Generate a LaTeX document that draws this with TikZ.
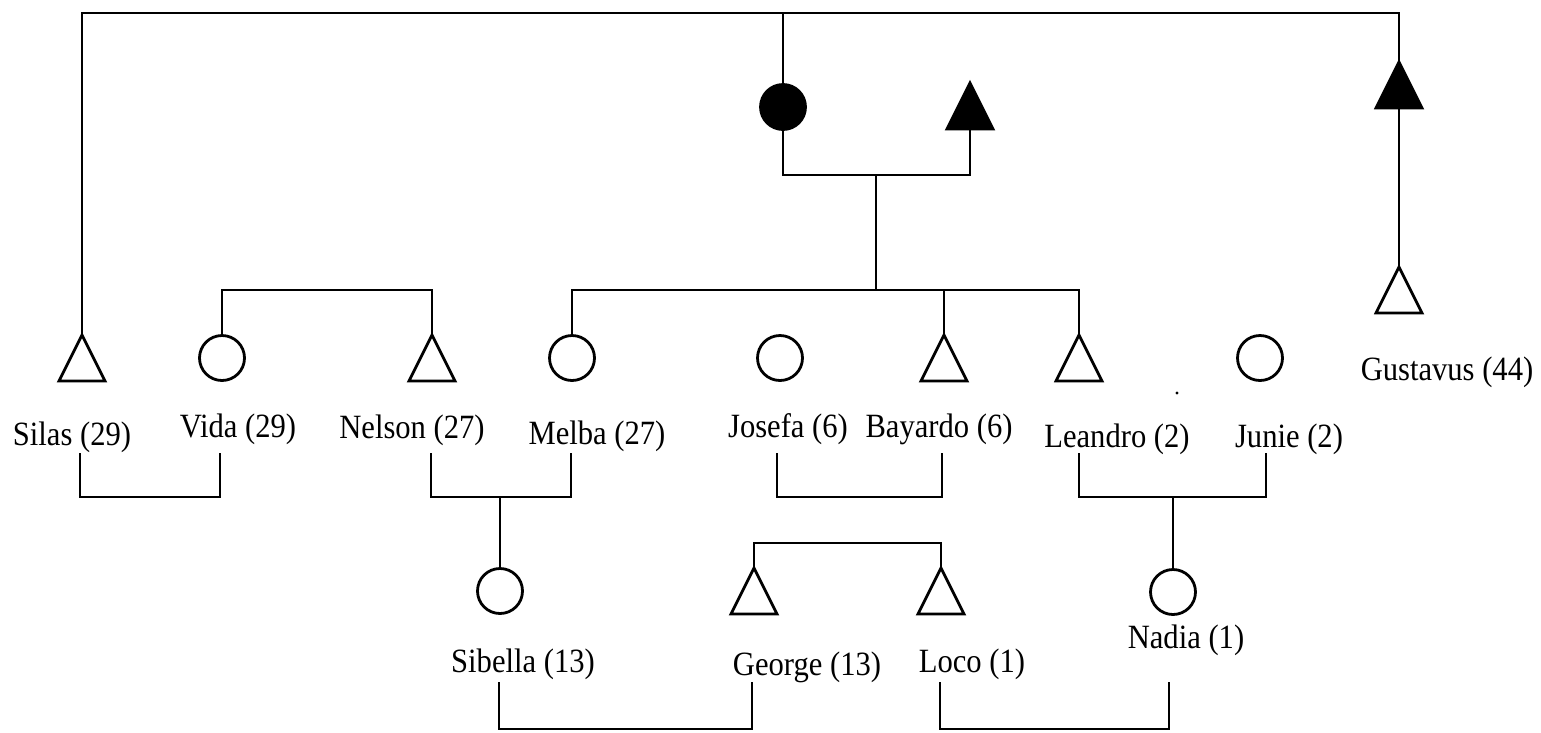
\documentclass[tikz,border=0pt]{standalone}
\usepackage{fontspec}
\setmainfont{Liberation Serif}[FakeStretch=0.9]
\begin{document}
\begin{tikzpicture}[x=1pt,y=-1pt,
  ln/.style={line width=2.8pt},
  fem/.style={circle,draw,line width=2.8pt,minimum size=45pt,inner sep=0pt},
  lab/.style={anchor=base,inner sep=0pt,font=\fontsize{34}{37}\selectfont},
  male/.pic={
    \draw[line width=2.8pt,line join=miter,pic actions] (0,0) -- (-23,46) -- (23,46) -- cycle;
    \coordinate (-top) at (0,0);
    \coordinate (-base) at (0,46);
  }]
\useasboundingbox (0,0) rectangle (1541,732);

% --- symbols -------------------------------------------------------------
\node[fem,fill=black] (mother) at (783,107) {};
\pic[fill=black] (father) at (970,83) {male};
\pic[fill=black] (gusf) at (1399,62) {male};

\pic (silas) at (82,335) {male};
\node[fem] (vida) at (222,358) {};
\pic (nelson) at (432,335) {male};
\node[fem] (melba) at (572,358) {};
\node[fem] (josefa) at (780,358) {};
\pic (bayardo) at (944,335) {male};
\pic (leandro) at (1079,335) {male};
\node[fem] (junie) at (1260,358) {};
\pic (gus) at (1399,267) {male};

\node[fem] (sibella) at (500,591) {};
\pic (george) at (754,568) {male};
\pic (loco) at (941,568) {male};
\node[fem] (nadia) at (1173,592) {};

\fill (1177,393) circle (1.6);

% --- labels --------------------------------------------------------------
\node[lab] (silasl)   at (72,445)   {Silas (29)};
\node[lab] (vidal)    at (238,437)  {Vida (29)};
\node[lab] (nelsonl)  at (412,438)  {Nelson (27)};
\node[lab] (melbal)   at (597,444)  {Melba (27)};
\node[lab] (josefal)  at (788,437)  {Josefa (6)};
\node[lab] (bayardol) at (939,437)  {Bayardo (6)};
\node[lab] (leandrol) at (1117,447) {Leandro (2)};
\node[lab] (juniel)   at (1289,447) {Junie (2)};
\node[lab] (gusl)     at (1447,380) {Gustavus (44)};
\node[lab] (sibellal) at (523,672)  {Sibella (13)};
\node[lab] (georgel)  at (807,675)  {George (13)};
\node[lab] (locol)    at (972,672)  {Loco (1)};
\node[lab] (nadial)   at (1186,648) {Nadia (1)};

% --- junction points -----------------------------------------------------
\coordinate (topL) at (82,13);
\coordinate (topR) at (1399,13);
\coordinate (mf) at (876,175);
\coordinate (sibbar) at (876,290);
\coordinate (glbar) at (848,543);

\coordinate (m1a) at (80,453);   \coordinate (m1b) at (220,453);
\coordinate (m2a) at (431,453);  \coordinate (m2b) at (571,453);
\coordinate (m2c) at (500,497);
\coordinate (m3a) at (777,453);  \coordinate (m3b) at (942,453);
\coordinate (m4a) at (1079,453); \coordinate (m4b) at (1266,453);
\coordinate (m4c) at (1173,497);
\coordinate (m5a) at (499,682);  \coordinate (m5b) at (752,682);
\coordinate (m6a) at (940,682);  \coordinate (m6b) at (1169,682);

% --- connectors ----------------------------------------------------------
\draw[ln] (silas-top) -- (topL) -- (topR) -- (gusf-top);
\draw[ln] (mother.north) -- (mother.north |- topL);
\draw[ln] (gusf-base) -- (gus-top);

\draw[ln] (mother.south) |- (mf) -| (father-base);
\draw[ln] (mf) -- (sibbar);
\draw[ln] (melba.north) -- (melba.north |- sibbar) -- (leandro-top |- sibbar) -- (leandro-top);
\draw[ln] (bayardo-top) -- (bayardo-top |- sibbar);
\draw[ln] (vida.north) -- (vida.north |- sibbar) -- (nelson-top |- sibbar) -- (nelson-top);

\draw[ln] (m1a) -- ++(0,44) -| (m1b);
\draw[ln] (m2a) -- ++(0,44) -| (m2b);
\draw[ln] (m2c) -- (sibella.north);
\draw[ln] (m3a) -- ++(0,44) -| (m3b);
\draw[ln] (m4a) -- ++(0,44) -| (m4b);
\draw[ln] (m4c) -- (nadia.north);

\draw[ln] (george-top) |- (glbar) -| (loco-top);

\draw[ln] (m5a) -- ++(0,47) -| (m5b);
\draw[ln] (m6a) -- ++(0,47) -| (m6b);
\end{tikzpicture}
\end{document}
